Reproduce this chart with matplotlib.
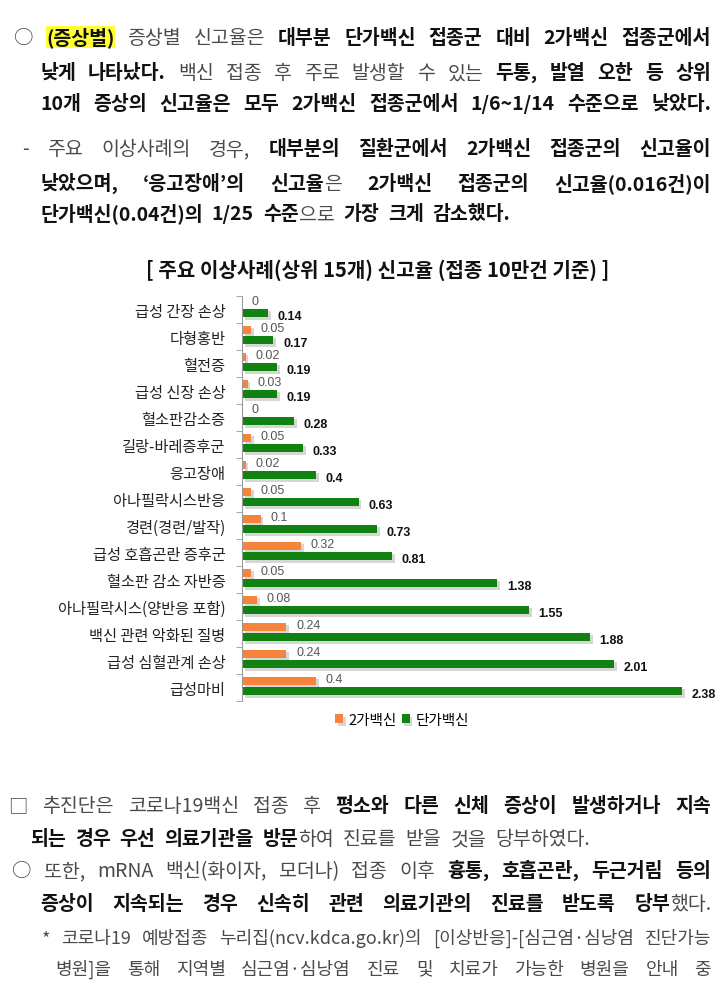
import numpy as np
import matplotlib
matplotlib.use('Agg')
import matplotlib.pyplot as plt
import matplotlib.patheffects as pe

KR = ['Noto Sans CJK KR', 'DejaVu Sans']
NARROW = ['Liberation Sans Narrow', 'Liberation Sans', 'DejaVu Sans']
plt.rcParams['font.family'] = KR

# ---------------- 데이터 ----------------
categories = ['급성 간장 손상', '다형홍반', '혈전증', '급성 신장 손상', '혈소판감소증',
              '길랑-바레증후군', '응고장애', '아나필락시스반응', '경련(경련/발작)',
              '급성 호흡곤란 증후군', '혈소판 감소 자반증', '아나필락시스(양반응 포함)',
              '백신 관련 악화된 질병', '급성 심혈관계 손상', '급성마비']
bivalent = [0, 0.05, 0.02, 0.03, 0, 0.05, 0.02, 0.05, 0.1, 0.32, 0.05, 0.08, 0.24, 0.24, 0.4]
monovalent = [0.14, 0.17, 0.19, 0.19, 0.28, 0.33, 0.4, 0.63, 0.73, 0.81, 1.38, 1.55, 1.88, 2.01, 2.38]
series_names = ['2가백신', '단가백신']
chart_title = '[ 주요 이상사례(상위 15개) 신고율 (접종 10만건 기준) ]'

# 본문 (텍스트, 스타일)  b=굵게, r=보통, h=강조(노란 배경)
body_top = [
    [('○ ', 'r'), ('(증상별)', 'h'), (' 증상별 신고율은 ', 'r'), ('대부분 단가백신 접종군 대비 2가백신 접종군에서', 'b')],
    [('낮게 나타났다.', 'b'), (' 백신 접종 후 주로 발생할 수 있는 ', 'r'), ('두통, 발열 오한 등 상위', 'b')],
    [('10개 증상의 신고율은 모두 2가백신 접종군에서 1/6~1/14 수준으로 낮았다.', 'b')],
    [('- 주요 이상사례의 경우, ', 'r'), ('대부분의 질환군에서 2가백신 접종군의 신고율이', 'b')],
    [('낮았으며, ‘응고장애’의 신고율', 'b'), ('은 ', 'r'), ('2가백신 접종군의 신고율(0.016건)이', 'b')],
    [('단가백신(0.04건)의 1/25 수준', 'b'), ('으로 ', 'r'), ('가장 크게 감소했다.', 'b')],
]
body_bottom = [
    [('□ 추진단은 코로나19백신 접종 후 ', 'r'), ('평소와 다른 신체 증상이 발생하거나 지속', 'b')],
    [('되는 경우 우선 의료기관을 방문', 'b'), ('하여 진료를 받을 것을 당부하였다.', 'r')],
    [('○ 또한, mRNA 백신(화이자, 모더나) 접종 이후 ', 'r'), ('흉통, 호흡곤란, 두근거림 등의', 'b')],
    [('증상이 지속되는 경우 신속히 관련 의료기관의 진료를 받도록 당부', 'b'), ('했다.', 'r')],
    [('* 코로나19 예방접종 누리집(ncv.kdca.go.kr)의 [이상반응]-[심근염·심낭염 진단가능', 'r')],
    [('병원]을 통해 지역별 심근염·심낭염 진료 및 치료가 가능한 병원을 안내 중', 'r')],
]

W, H = 719, 995
fig = plt.figure(figsize=(W / 100, H / 100), dpi=100)
fig.patch.set_facecolor('white')
renderer = fig.canvas.get_renderer()


def style_kw(st, size):
    if st == 'r':
        return dict(fontsize=size, fontweight='normal', color='#4a4a4a')
    kw = dict(fontsize=size, fontweight='bold', color='#111111')
    if st == 'h':
        kw['bbox'] = dict(facecolor='#ffff33', edgecolor='none', pad=0.3)
    return kw


def measure(s, st, size):
    t = fig.text(0, 0, s, family=KR, **style_kw(st, size))
    w = t.get_window_extent(renderer).width
    t.remove()
    return w


def draw_line(yc, segs, x0, x1, size, justify=True, gap_nat=9):
    # 단어 단위로 나누기 (한 단어 안에 스타일이 섞일 수 있음)
    words = [[]]
    for txt, st in segs:
        parts = txt.split(' ')
        for k, p in enumerate(parts):
            if k > 0:
                words.append([])
            if p:
                words[-1].append((p, st))
    words = [w for w in words if w]
    while True:
        widths = [[measure(p, st, size) for p, st in w] for w in words]
        total = sum(sum(ww) for ww in widths)
        if justify and len(words) > 1:
            gap = (x1 - x0 - total) / (len(words) - 1)
        else:
            gap = gap_nat
        if gap >= 4 or size < 8:
            break
        size -= 0.25
    base = yc + size * 0.52   # 한글 중앙 -> 기준선
    x = x0
    for w, ww in zip(words, widths):
        for (p, st), pw in zip(w, ww):
            fig.text(x / W, 1 - base / H, p, family=KR, va='baseline', ha='left',
                     **style_kw(st, size))
            x += pw
        x += gap


# 위쪽 본문
top_y = [37, 72, 103, 148, 183, 213]
top_x0 = [14, 40, 40, 22, 40, 40]
for i, segs in enumerate(body_top):
    draw_line(top_y[i], segs, top_x0[i], 711, 14, justify=(i != 5))

# 아래쪽 본문
bot_y = [805, 838, 870, 903, 937, 968]
bot_x0 = [8, 30, 12, 40, 42, 55]
bot_size = [14, 14, 14, 14, 13, 13]
for i, segs in enumerate(body_bottom):
    draw_line(bot_y[i], segs, bot_x0[i], 711, bot_size[i], justify=(i != 1))

# ---------------- 그래프 ----------------
ORANGE = '#f5843c'
GREEN = '#118211'
px_per_unit = 185
ax_l, ax_r, ax_t, ax_b = 242, 705, 297, 702
ax = fig.add_axes([ax_l / W, 1 - ax_b / H, (ax_r - ax_l) / W, (ax_b - ax_t) / H])

y = np.arange(len(categories))
h = 0.31
shadow = [pe.SimplePatchShadow(offset=(2, -2), shadow_rgbFace='#9a9a9a', alpha=0.4), pe.Normal()]
bars1 = ax.barh(y - 0.25, bivalent, height=h, color=ORANGE, label=series_names[0])
bars2 = ax.barh(y + 0.12, monovalent, height=h, color=GREEN, label=series_names[1])
for b in list(bars1) + list(bars2):
    b.set_path_effects(shadow)

ax.set_xlim(0, (ax_r - ax_l) / px_per_unit)
ax.set_ylim(len(categories) - 0.5, -0.5)

for yi, v in zip(y, bivalent):
    ax.annotate(f'{v:g}', (v, yi - 0.25), xytext=(7, 1.5), textcoords='offset points',
                va='center', ha='left', fontsize=9, color='#555555', family=NARROW)
for yi, v in zip(y, monovalent):
    ax.annotate(f'{v:g}', (v, yi + 0.12), xytext=(7, -2.5), textcoords='offset points',
                va='center', ha='left', fontsize=9, color='#111111', fontweight='bold',
                family=NARROW)

for s in ['top', 'right', 'bottom']:
    ax.spines[s].set_visible(False)
ax.spines['left'].set_color('#9a9a9a')
ax.set_xticks([])
ax.set_yticks(y)
ax.set_yticklabels(categories, fontsize=11, color='#222222')
ax.tick_params(axis='y', which='major', length=0, pad=12)
ax.set_yticks(np.arange(-0.5, len(categories), 1), minor=True)
ax.tick_params(axis='y', which='minor', length=4, color='#9a9a9a', direction='out')
ax.set_facecolor('none')

ax.legend(loc='center', bbox_to_anchor=((402 - ax_l) / (ax_r - ax_l), -(721 - ax_b) / (ax_b - ax_t)),
          ncol=2, frameon=False, fontsize=10.5, handlelength=0.55, handleheight=0.55,
          handletextpad=0.4, columnspacing=0.3, borderaxespad=0, borderpad=0)

fig.text(378 / W, 1 - 270 / H, chart_title, ha='center', va='center',
         fontsize=14.5, fontweight='bold', color='#111111')

fig.savefig('out.png', dpi=100, facecolor='white')
